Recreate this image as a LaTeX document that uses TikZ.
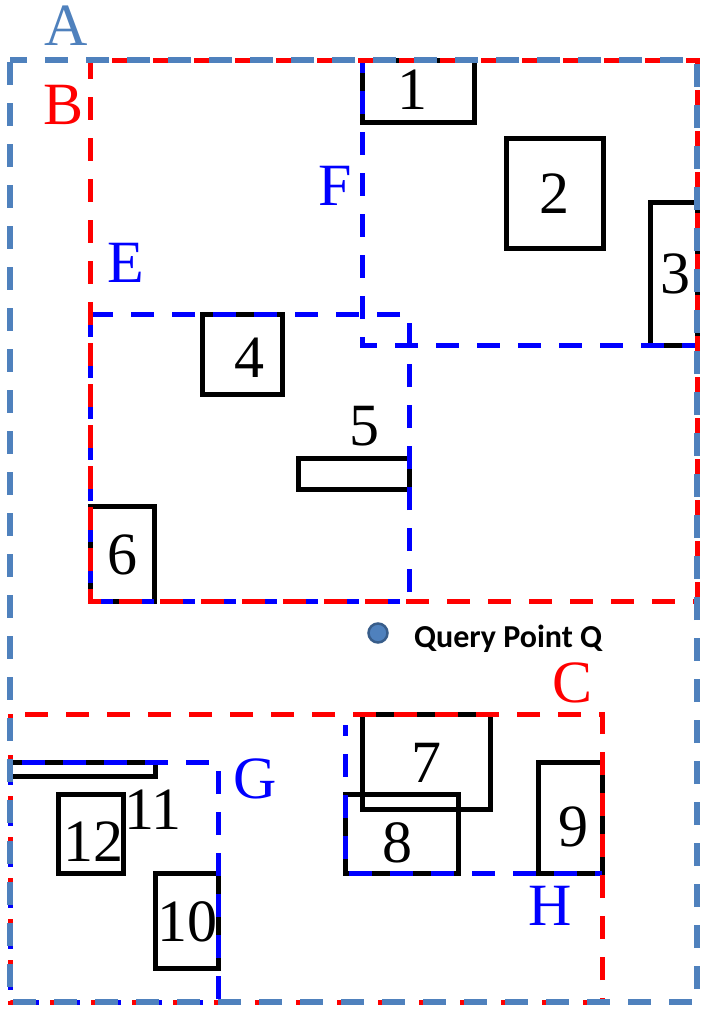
\documentclass[tikz,border=0pt]{standalone}
\usepackage{fontspec}
\setmainfont{Liberation Serif}
\newfontfamily\calibrifont{Carlito}
\definecolor{mbrsteel}{RGB}{79,129,189}
\definecolor{qedge}{RGB}{56,93,138}
\tikzset{
  mbr/.style={line width=5pt, dash pattern=on 23pt off 18pt},
  obj/.style={draw=black, line width=5pt},
  tag/.style={inner sep=0pt, font=\fontsize{60}{62}\selectfont},
}

\begin{document}
\begin{tikzpicture}[x=1pt, y=-1pt]
\useasboundingbox (0,0) rectangle (701,1009);
% objects
\draw[obj] (362,60) rectangle (474,122);
\draw[obj] (506,138) rectangle (603,248);
\draw[obj] (650,202) rectangle (697,345);
\draw[obj] (202,314) rectangle (282,394);
\draw[obj] (298,458) rectangle (409,489);
\draw[obj] (90,506) rectangle (154,601);
\draw[obj] (362,714) rectangle (490,809);
\draw[obj] (345,794) rectangle (458,873);
\draw[obj] (538,762) rectangle (602,873);
\draw[obj] (155,873) rectangle (218,968);
\draw[obj] (10,762) rectangle (155,776);
\draw[obj] (58,794) rectangle (123,873);
% leaf regions
\draw[mbr, blue] (90,314) rectangle (409,601);
\draw[mbr, blue, dash phase=10pt] (362,60) -- (362,345) -- (697,345) -- (697,60);
\draw[mbr, blue] (10,762) rectangle (218,1002);
\draw[mbr, blue, dash phase=12pt] (345,725) -- (345,873) -- (602,873);
% inner regions
\draw[mbr, red, dash phase=4pt] (90,60) rectangle (697,601);
\draw[mbr, red] (10,714) rectangle (602,1002);
% root region
\draw[mbr, mbrsteel, line width=6pt, dash phase=-2pt] (10,60) rectangle (697,1002);
% labels
\node[tag, text=mbrsteel] (lA) at (66,26) {A};
\node[tag, text=red] (lB) at (64,105) {B};
\node[tag, text=red] (lC) at (573,683) {C};
\node[tag, text=blue] (lE) at (126,263) {E};
\node[tag, text=blue] (lF) at (335,186) {F};
\node[tag, text=blue] (lG) at (255,779) {G};
\node[tag, text=blue] (lH) at (550,906) {H};
\node[tag] (n1) at (412,90) {1};
\node[tag] (n2) at (554,194) {2};
\node[tag] (n3) at (675,274) {3};
\node[tag] (n4) at (249,358) {4};
\node[tag] (n5) at (364,426) {5};
\node[tag] (n6) at (122,555) {6};
\node[tag] (n7) at (426,763) {7};
\node[tag] (n8) at (397,843) {8};
\node[tag] (n9) at (573,827) {9};
\node[tag] (n10) at (187,922) {10};
\node[tag] (n11) at (153,810) {11};
\node[tag] (n12) at (93,842) {12};
% query point
\node[circle, fill=mbrsteel, draw=qedge, line width=2.5pt, minimum size=19pt, inner sep=0pt] (q) at (378,633) {};
\node[anchor=base west, inner sep=0pt, font=\calibrifont\bfseries\fontsize{32}{34}\selectfont] (qtext) at (414,647) {Query Point Q};
\end{tikzpicture}
\end{document}
